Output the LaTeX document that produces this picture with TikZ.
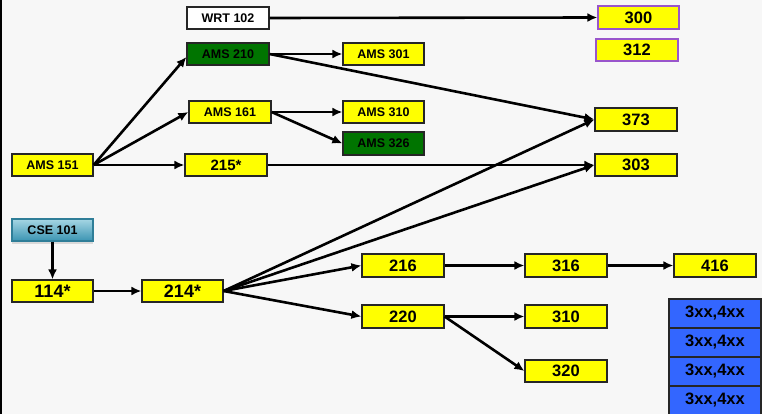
\documentclass[tikz,border=0pt]{standalone}
\usepackage{fontspec}
\setmainfont{Liberation Sans}
\usepackage{tikz}
\usetikzlibrary{arrows.meta,shadows}

\definecolor{bgpaper}{HTML}{F7F7F7}
\definecolor{crsyellow}{HTML}{FFFF00}
\definecolor{crsgreen}{HTML}{007400}
\definecolor{crsblue}{HTML}{3366FF}
\definecolor{crspurple}{HTML}{9955CC}
\definecolor{csetop}{HTML}{A6D6E4}
\definecolor{csebot}{HTML}{3A94B2}
\definecolor{cseline}{HTML}{2F7E98}

\begin{document}
\begin{tikzpicture}[x=1pt,y=-1pt,
    box/.style={draw=black!85,line width=1.2pt,fill=crsyellow,rectangle,
      minimum width=82pt,minimum height=22pt,inner sep=0pt,font=\bfseries},
    small/.style={font=\fontsize{12.5}{13}\selectfont\bfseries},
    big/.style={font=\fontsize{16.5}{17}\selectfont\bfseries},
    bigger/.style={font=\fontsize{18}{19}\selectfont\bfseries},
    arr/.style={line width=2.6pt,-{Latex[length=10pt,width=9pt]}}]
    \useasboundingbox (0,0) rectangle (762,414);
    \fill[bgpaper] (0,0) rectangle (762,414);
    \draw[line width=2pt] (1,0) -- (1,414);

    % first row of courses
    \node[box,small,fill=white] (wrt102) at (228,18) {WRT 102};
    \node[box,small,fill=crsgreen] (ams210) at (228,54) {AMS 210};
    \node[box,small] (ams161) at (230,112) {AMS 161};
    \node[box,small,minimum width=81pt] (ams151) at (52.5,165) {AMS 151};
    \node[box,font=\fontsize{15}{16}\selectfont\bfseries] (c215) at (226,165) {215*};
    \node[box,small,minimum width=81pt] (ams301) at (383.5,54) {AMS 301};
    \node[box,small,minimum width=81pt] (ams310) at (383.5,112) {AMS 310};
    \node[box,small,minimum width=81pt,fill=crsgreen,minimum height=23pt] (ams326) at (383.5,143.5) {AMS 326};
    \node[box,big,draw=crspurple,minimum width=81pt,minimum height=23pt] (c300) at (638.5,17.5) {300};
    \node[box,big,draw=crspurple] (c312) at (637,50) {312};
    \node[box,big,minimum height=23pt] (c373) at (636,119.5) {373};
    \node[box,big] (c303) at (636,165) {303};

    % second row of courses
    \node[box,small,minimum width=81pt,draw=cseline,top color=csetop,bottom color=csebot,
      drop shadow={opacity=0.25,shadow xshift=0pt,shadow yshift=-3pt}] (cse101) at (52.5,230) {CSE 101};
    \node[box,bigger,minimum width=81pt] (c114) at (52.5,291) {114*};
    \node[box,bigger,minimum width=81pt] (c214) at (182.5,291) {214*};
    \node[box,big,minimum height=23pt] (c216) at (403,265.5) {216};
    \node[box,big,minimum height=23pt] (c220) at (403,316.5) {220};
    \node[box,big,minimum height=23pt] (c316) at (566,265.5) {316};
    \node[box,big,minimum height=23pt] (c416) at (715,265.5) {416};
    \node[box,big,minimum height=23pt] (c310) at (566,316.5) {310};
    \node[box,big] (c320) at (566,371) {320};
    \foreach \y/\n in {313.5/1, 342.5/2, 371.5/3, 400.5/4}{
      \node[box,big,fill=crsblue,minimum width=92pt,minimum height=29pt] (elec\n) at (715,\y) {3xx,4xx};
    }

    \draw[arr] (ams151.east) -- ([yshift=-3pt]ams210.west);
    \foreach \a/\b in {wrt102/c300, ams151/ams161, ams151/c215, ams210/ams301, ams210/c373,
      ams161/ams310, ams161/ams326, c215/c303, c114/c214, c214/c373, c214/c303,
      c214/c216, c214/c220, c216/c316, c316/c416, c220/c310, c220/c320}{
      \draw[arr] (\a.east) -- (\b.west);
    }
    \draw[arr] (cse101.south) -- (c114.north);
  \end{tikzpicture}
\end{document}
